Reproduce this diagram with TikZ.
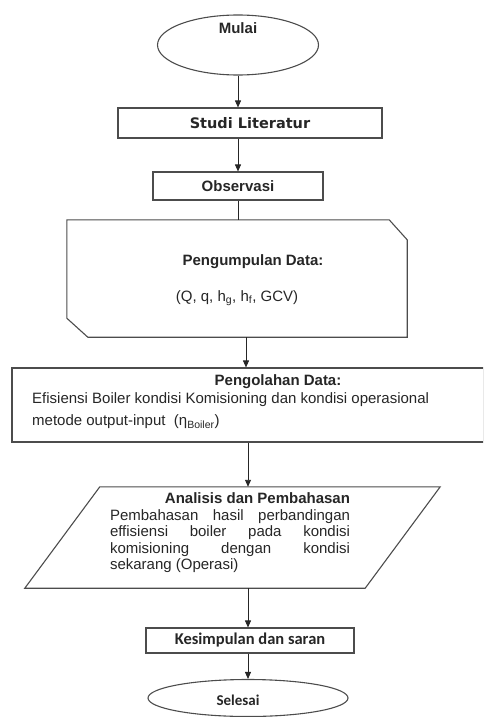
\documentclass[tikz,border=0pt]{standalone}
\usepackage{fontspec}
\setmainfont{Liberation Sans}
\newfontfamily\verdfont{DejaVu Sans}
\newfontfamily\calfont{Carlito}
\usetikzlibrary{shapes.geometric,arrows.meta}

\begin{document}
\begin{tikzpicture}[x=1pt,y=-1pt,
  box/.style={draw=black!70,line width=1.1pt,inner sep=0pt,text=black!85},
  frame/.style={draw=black!70,line width=1.1pt},
  word/.style={inner sep=0pt,text=black!85,font=\fontsize{15}{17}\selectfont},
  head/.style={word,font=\fontsize{15}{17}\selectfont\bfseries},
  link/.style={draw=black!85,line width=0.9pt},
  flow/.style={link,-{Triangle[length=7pt,width=6pt]}}]

\useasboundingbox (0,0) rectangle (483,717);
\clip (0,0) rectangle (483,717);

\node[box,ellipse,minimum width=161pt,minimum height=60pt] (mulai) at (238,45) {};
\node[head] (mulaiText) at (238,28) {Mulai};

\node[box,minimum width=264pt,minimum height=30pt,font=\verdfont\fontsize{14.5}{17}\selectfont\bfseries] (studi) at (250,123) {Studi Literatur};

\node[box,minimum width=170pt,minimum height=28pt,font=\fontsize{15}{17}\selectfont\bfseries] (observasi) at (238,186) {Observasi};

% cut corners top right and bottom left
\node[inner sep=0pt,minimum width=340pt,minimum height=117pt] (pengumpulan) at (237,278.5) {};
\draw[frame] (pengumpulan.north west) -- ([xshift=-18pt]pengumpulan.north east)
  -- ([yshift=-20pt]pengumpulan.north east) -- (pengumpulan.south east)
  -- ([xshift=21pt]pengumpulan.south west) -- ([yshift=19pt]pengumpulan.south west) -- cycle;
\node[head] (pengumpulanJudul) at (253,262) {Pengumpulan Data:};
\node[word] (pengumpulanIsi) at (237,298) {(Q, q, h\textsubscript{g}, h\textsubscript{f}, GCV)};

\node[box,minimum width=472pt,minimum height=74pt] (pengolahan) at (248,405) {};
\node[head] (pengolahanJudul) at (278,382) {Pengolahan Data:};
\node[word,anchor=west,align=left,font=\fontsize{15}{22}\selectfont] (pengolahanIsi) at (32,411)
  {Efisiensi Boiler kondisi Komisioning dan kondisi operasional\\metode output-input\ \ (η\textsubscript{Boiler})};

% parallelogram
\node[inner sep=0pt,minimum width=415pt,minimum height=101pt] (analisis) at (232.5,537.5) {};
\draw[frame] ([xshift=75pt]analisis.north west) -- (analisis.north east)
  -- ([xshift=-75pt]analisis.south east) -- (analisis.south west) -- cycle;
\node[word,text width=240pt,align=justify,font=\fontsize{15}{16.5}\selectfont] (analisisIsi) at (230,533)
  {\hfill\textbf{Analisis dan Pembahasan}\par
   Pembahasan hasil perbandingan\linebreak effisiensi boiler pada kondisi\linebreak
   komisioning dengan kondisi\linebreak sekarang (Operasi)};

\node[box,minimum width=208pt,minimum height=25pt,font=\calfont\fontsize{16.5}{18}\selectfont\bfseries] (kesimpulan) at (250,640.5) {Kesimpulan dan saran};

\node[box,ellipse,minimum width=200pt,minimum height=37pt] (selesai) at (248,698) {};
\node[word,font=\calfont\fontsize{15}{17}\selectfont\bfseries] (selesaiText) at (238,700) {Selesai};

\draw[flow] (mulai) -- (mulai |- studi.north);
\draw[flow] (studi.south -| observasi) -- (observasi);
\draw[link] (observasi) -- (observasi |- pengumpulan.north);
\draw[flow] ([xshift=9pt]pengumpulan.south) -- ([xshift=9pt]pengumpulan.south |- pengolahan.north);
\draw[flow] (pengolahan) -- (pengolahan |- analisis.north);
\draw[flow] (analisis.south -| selesai) -- (selesai |- kesimpulan.north);
\draw[flow] (kesimpulan.south -| selesai) -- (selesai);

\end{tikzpicture}
\end{document}
